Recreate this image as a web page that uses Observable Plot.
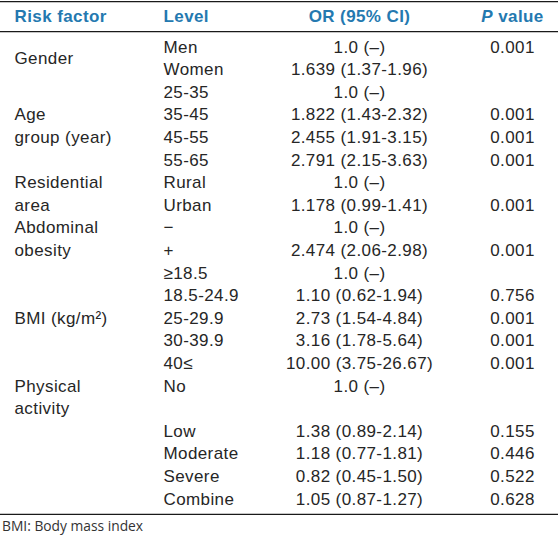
<!DOCTYPE html>
<html>
<head>
<meta charset="utf-8">
<script src="https://cdn.jsdelivr.net/npm/d3@7"></script>
<script src="https://cdn.jsdelivr.net/npm/@observablehq/plot@0.6"></script>
<style>
  body { margin: 0; background: #fff; }
  #foot { font-family: "Open Sans", sans-serif; font-size: 13.8px; line-height: 20px; color: #333; padding-left: 2px; }
</style>
</head>
<body>
<div id="chart"></div>
<div id="foot">BMI: Body mass index</div>
<script>
// ---- data ----
const columns = ["factor", "level", "or", "p"];
const headers = ["Risk factor", "Level", "OR (95% CI)", "P value"];
const levels = ["Men","Women","25-35","35-45","45-55","55-65","Rural","Urban","\u2212","+","\u226518.5","18.5-24.9","25-29.9","30-39.9","40\u2264","No","","Low","Moderate","Severe","Combine"];
const ors = ["1.0 (\u2013)","1.639 (1.37-1.96)","1.0 (\u2013)","1.822 (1.43-2.32)","2.455 (1.91-3.15)","2.791 (2.15-3.63)","1.0 (\u2013)","1.178 (0.99-1.41)","1.0 (\u2013)","2.474 (2.06-2.98)","1.0 (\u2013)","1.10 (0.62-1.94)","2.73 (1.54-4.84)","3.16 (1.78-5.64)","10.00 (3.75-26.67)","1.0 (\u2013)","","1.38 (0.89-2.14)","1.18 (0.77-1.81)","0.82 (0.45-1.50)","1.05 (0.87-1.27)"];
const pvalues = ["0.001","","","0.001","0.001","0.001","","0.001","","0.001","","0.756","0.001","0.001","0.001","","","0.155","0.446","0.522","0.628"];
const factorLines = ["Gender","Age","group (year)","Residential","area","Abdominal","obesity","BMI (kg/m\u00b2)","Physical","activity"];
const factorRows = [0.5, 3, 4, 6, 7, 8, 9, 12, 15, 16];

// ---- layout (row units / column index) ----
const headerRow = -1.36;
const rules = [-2.02, -0.69, 20.67];
const col = name => columns.indexOf(name);

const rows = levels.map((l, i) => ({row: i, level: l, or: ors[i], p: pvalues[i]}));
const factors = factorLines.map((t, i) => ({row: factorRows[i], text: t}));
const heads = headers.map((h, i) => ({c: i, text: h}));

const textColor = "#262626";
const blue = "#2479b0";
const common = {fontSize: 17, fill: textColor};

const chart = Plot.plot({
  width: 558,
  height: 516,
  margin: 0,
  style: {fontFamily: "'Liberation Sans', Arial, sans-serif", background: "#fff", letterSpacing: "0.4px"},
  x: {type: "linear", domain: [0, 1, 2, 3], range: [14, 163, 359, 512], axis: null},
  y: {domain: [0, 20], range: [46.7, 498.7], axis: null},
  marks: [
    Plot.ruleY(rules, {stroke: "#1a1a1a", strokeWidth: 1.3}),
    Plot.text(heads.filter(d => d.c < 2), {x: "c", y: () => headerRow, text: "text", textAnchor: "start", fontSize: 17, fontWeight: "bold", fill: blue}),
    Plot.text(heads.filter(d => d.c >= 2), {x: "c", y: () => headerRow, text: "text", textAnchor: "middle", fontSize: 17, fontWeight: "bold", fill: blue, className: "hdr-c"}),
    Plot.text(factors, {x: () => col("factor"), y: "row", text: "text", textAnchor: "start", ...common}),
    Plot.text(rows, {x: () => col("level"), y: "row", text: "level", textAnchor: "start", ...common}),
    Plot.text(rows, {x: () => col("or"), y: "row", text: "or", textAnchor: "middle", ...common}),
    Plot.text(rows, {x: () => col("p"), y: "row", text: "p", textAnchor: "middle", ...common})
  ]
});
document.getElementById("chart").appendChild(chart);

// italic "P" in the header
d3.select(chart).selectAll(".hdr-c text").each(function() {
  const t = d3.select(this);
  if (t.text() === "P value") {
    t.text(null);
    t.append("tspan").attr("font-style", "italic").text("P");
    t.append("tspan").text(" value");
  }
});
</script>
</body>
</html>
